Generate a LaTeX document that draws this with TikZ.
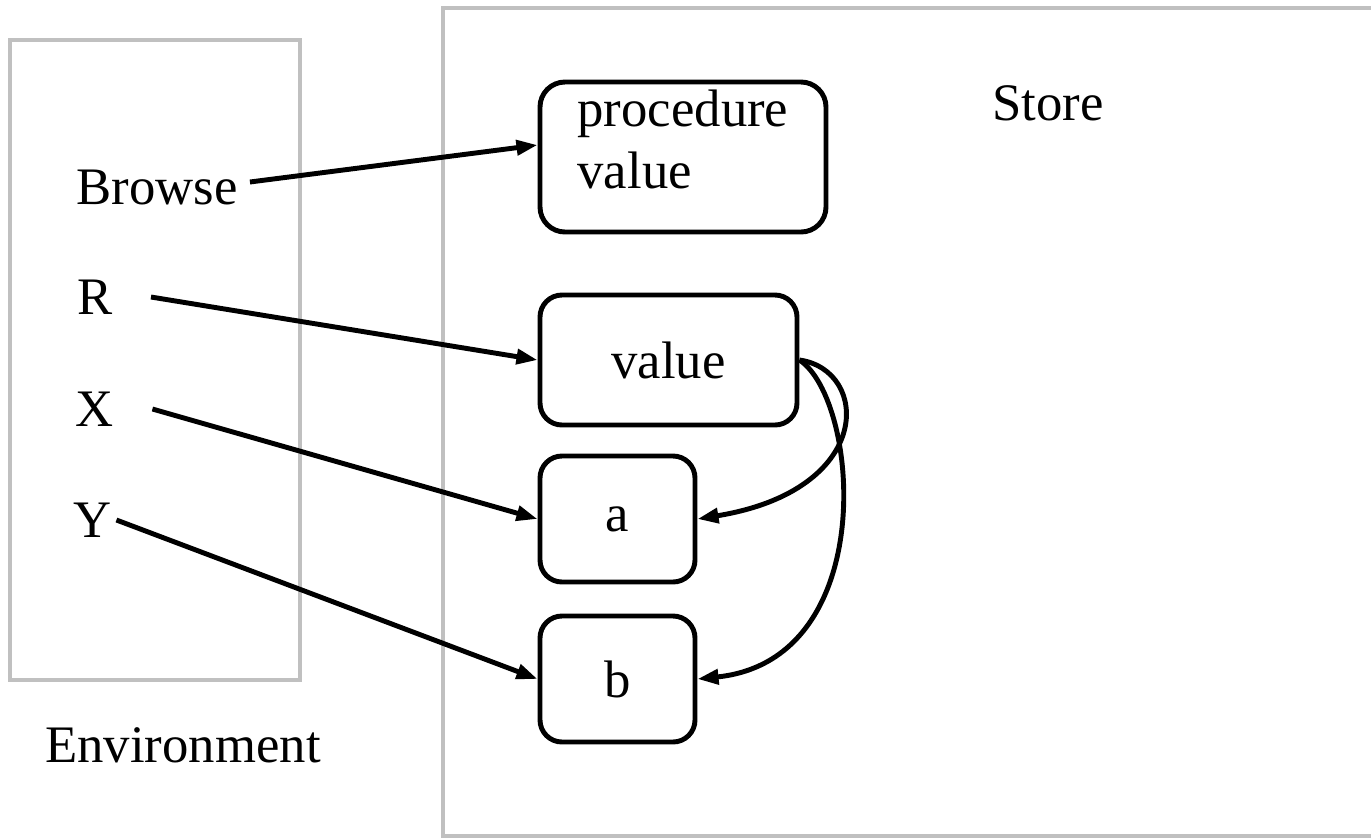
\documentclass[tikz,border=0pt]{standalone}
\usepackage{fontspec}
\setmainfont{Liberation Serif}
\usetikzlibrary{arrows.meta}
\definecolor{framegray}{RGB}{192,192,192}
\tikzset{
  cell/.style={rectangle,rounded corners=0.22cm,draw=black,line width=1.4pt,
               minimum width=#1,align=center,font=\fontsize{15}{17.6}\selectfont},
  cell/.default=1.55cm,
  lbl/.style={font=\fontsize{15}{17.6}\selectfont},
  frame/.style={draw=framegray,line width=1.2pt},
  ptr/.style={-{Triangle[length=6pt,width=4.2pt]},line width=1.4pt},
}
\begin{document}
\begin{tikzpicture}
  \useasboundingbox (0,0) rectangle (13.71,-8.39);

  % environment and store frames
  \draw[frame] (0.10,-0.40) rectangle (3.00,-6.80);
  \draw[frame] (14.0,-0.08) -| (4.43,-8.36) -- (14.0,-8.36);

  \node[lbl] (env)    at (1.83,-7.45) {Environment};
  \node[lbl] (store)  at (10.48,-1.03) {Store};

  \node[lbl] (browse) at (1.57,-1.87) {Browse};
  \node[lbl] (r)      at (0.95,-2.97) {R};
  \node[lbl] (x)      at (0.95,-4.09) {X};
  \node[lbl] (y)      at (0.93,-5.20) {Y};

  \node[cell=2.86cm,minimum height=1.50cm,rounded corners=0.25cm,align=left,
        inner ysep=0pt,text depth=0.36cm] (proc) at (6.83,-1.57) {procedure\\value};
  \node[cell=2.57cm,minimum height=1.30cm] (val) at (6.685,-3.60) {value};
  \node[cell,minimum height=1.26cm]        (a)   at (6.175,-5.19) {a};
  \node[cell,minimum height=1.26cm]        (b)   at (6.175,-6.79) {b};

  \draw[ptr] ([yshift=0.05cm]browse.east) -- ([yshift=0.12cm]proc.west);
  \draw[ptr] ([xshift=0.26cm]r.east) -- (val.west);
  \draw[ptr] ([xshift=0.26cm]x.east) -- (a.west);
  \draw[ptr] ([xshift=-0.08cm]y.east) -- (b.west);

  % value points to both cells
  \draw[ptr] (val.east) .. controls (8.7,-3.7) and (8.75,-4.9) .. (a.east);
  \draw[ptr] (val.east) .. controls (8.6,-4.0) and (8.8,-6.6) .. (b.east);
\end{tikzpicture}
\end{document}
